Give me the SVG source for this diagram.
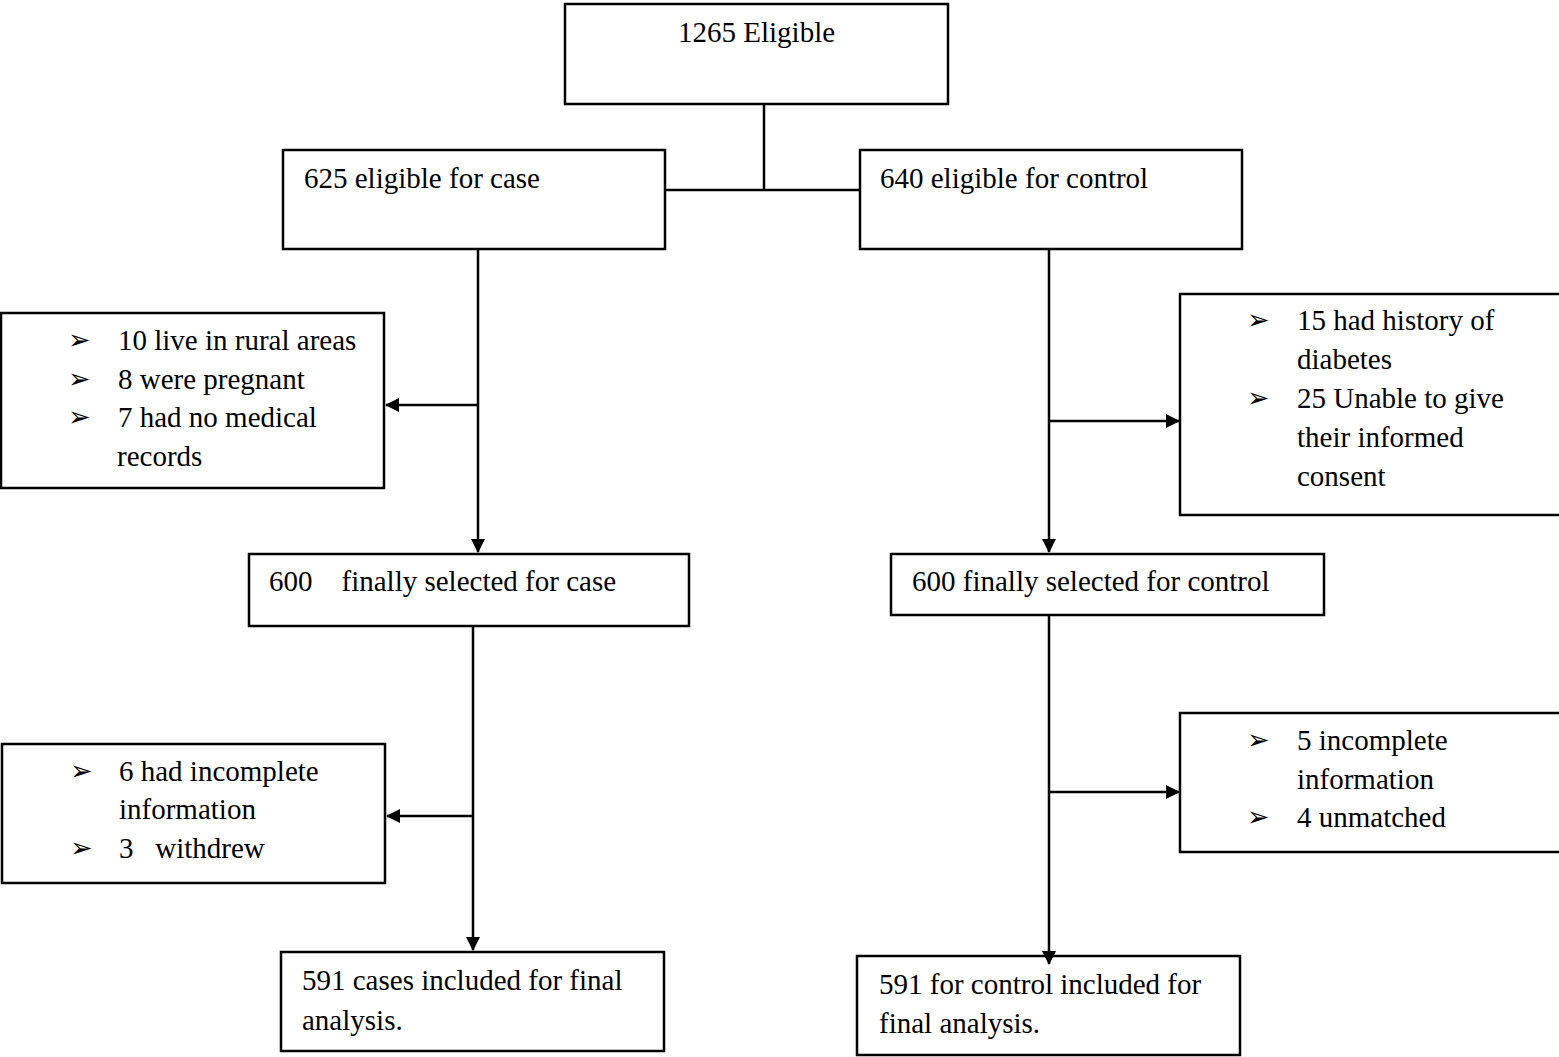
<svg xmlns="http://www.w3.org/2000/svg" width="1559" height="1057" viewBox="0 0 1559 1057">
<style>
.box{fill:#fff;stroke:#000;stroke-width:2.5}
.open{fill:none}
.t{font-family:'Liberation Serif','Times New Roman',serif;font-size:29px;fill:#000}
.b{font-family:'DejaVu Sans',sans-serif;font-size:27px;fill:#000}
.ln{stroke:#000;stroke-width:2.5;fill:none}
</style>
<defs>
<marker id="ah" markerWidth="14" markerHeight="14" refX="13" refY="7" orient="auto" markerUnits="userSpaceOnUse">
<path d="M0,0 L14,7 L0,14 Z" fill="#000"/>
</marker>
</defs>
<rect width="1559" height="1057" fill="#fff"/>
<g id="connectors">
<path class="ln" d="M764,104 V190"/>
<path class="ln" d="M665,190 H860"/>
<path class="ln" d="M478,245 V552" marker-end="url(#ah)"/>
<path class="ln" d="M478,405 H386" marker-end="url(#ah)"/>
<path class="ln" d="M1049,245 V552" marker-end="url(#ah)"/>
<path class="ln" d="M1049,421 H1179" marker-end="url(#ah)"/>
<path class="ln" d="M473,626 V950" marker-end="url(#ah)"/>
<path class="ln" d="M473,816 H387" marker-end="url(#ah)"/>
<path class="ln" d="M1049,615 V964" marker-end="url(#ah)"/>
<path class="ln" d="M1049,792 H1179" marker-end="url(#ah)"/>
</g>
<g font-family="Liberation Serif">
<g id="n-eligible">
<rect class="box" x="565" y="4" width="383" height="100"/>
<text class="t" x="678" y="42">1265 Eligible</text>
</g>
<g id="n-case">
<rect class="box" x="283" y="150" width="382" height="99"/>
<text class="t" x="304" y="188">625 eligible for case</text>
</g>
<g id="n-control">
<rect class="box" x="860" y="150" width="382" height="99"/>
<text class="t" x="880" y="188">640 eligible for control</text>
</g>
<g id="n-excl-case">
<rect class="box" x="1" y="313" width="383" height="175"/>
<text class="b" x="68" y="349">➢</text>
<text class="t" x="118" y="350">10 live in rural areas</text>
<text class="b" x="68" y="388">➢</text>
<text class="t" x="118" y="389">8 were pregnant</text>
<text class="b" x="68" y="426">➢</text>
<text class="t" x="118" y="427">7 had no medical</text>
<text class="t" x="117" y="466">records</text>
</g>
<g id="n-excl-control">
<rect class="box" x="1180" y="294" width="382" height="221"/>
<text class="b" x="1247" y="329">➢</text>
<text class="t" x="1297" y="330">15 had history of</text>
<text class="t" x="1297" y="369">diabetes</text>
<text class="b" x="1247" y="407">➢</text>
<text class="t" x="1297" y="408">25 Unable to give</text>
<text class="t" x="1297" y="447">their informed</text>
<text class="t" x="1297" y="486">consent</text>
</g>
<g id="n-sel-case">
<rect class="box" x="249" y="554" width="440" height="72"/>
<text class="t" x="269" y="591" xml:space="preserve">600    finally selected for case</text>
</g>
<g id="n-sel-control">
<rect class="box" x="891" y="554" width="433" height="61"/>
<text class="t" x="912" y="591">600 finally selected for control</text>
</g>
<g id="n-excl-case2">
<rect class="box" x="2" y="744" width="383" height="139"/>
<text class="b" x="70" y="780">➢</text>
<text class="t" x="119" y="781">6 had incomplete</text>
<text class="t" x="119" y="819">information</text>
<text class="b" x="70" y="857">➢</text>
<text class="t" x="119" y="858" xml:space="preserve">3   withdrew</text>
</g>
<g id="n-excl-control2">
<rect class="box" x="1180" y="713" width="382" height="139"/>
<text class="b" x="1247" y="749">➢</text>
<text class="t" x="1297" y="750">5 incomplete</text>
<text class="t" x="1297" y="789">information</text>
<text class="b" x="1247" y="826">➢</text>
<text class="t" x="1297" y="827">4 unmatched</text>
</g>
<g id="n-final-case">
<rect class="box" x="281" y="952" width="383" height="99"/>
<text class="t" x="302" y="990">591 cases included for final</text>
<text class="t" x="302" y="1030">analysis.</text>
</g>
<g id="n-final-control">
<rect class="box open" x="857" y="956" width="383" height="99"/>
<text class="t" x="879" y="994">591 for control included for</text>
<text class="t" x="879" y="1033">final analysis.</text>
</g>
</g>
</svg>
